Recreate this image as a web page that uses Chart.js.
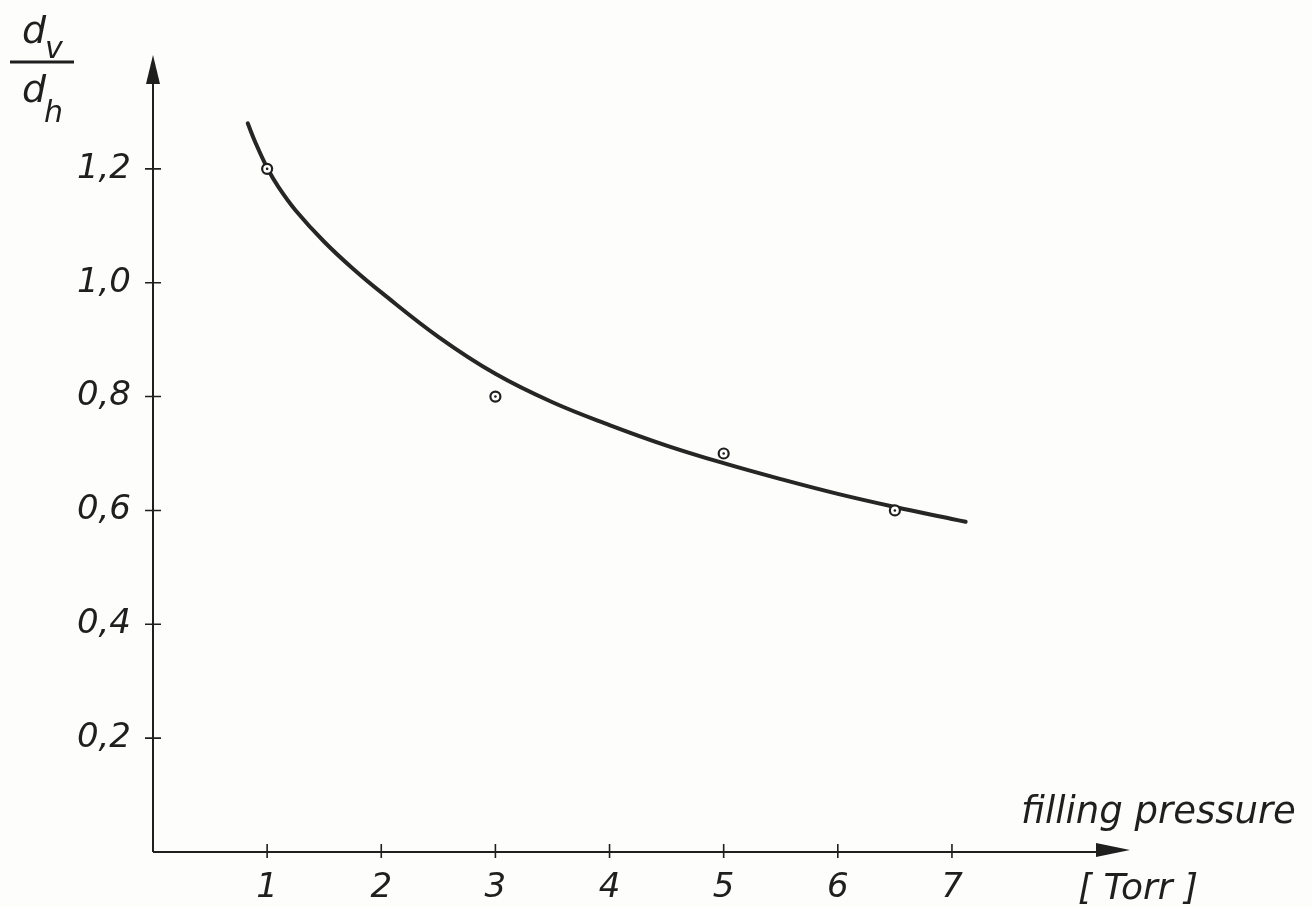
<!DOCTYPE html>
<html>
<head>
<meta charset="utf-8">
<script src="https://cdn.jsdelivr.net/npm/chart.js@4"></script>
<style>
  html, body { margin: 0; padding: 0; background: #fdfdfc; }
  #wrap { width: 1312px; height: 907px; }
</style>
</head>
<body>
<div id="wrap"><canvas id="chart" width="1312" height="907"></canvas></div>
<script>
// values
const pressureTicks = [1, 2, 3, 4, 5, 6, 7];
const ratioTicks = [0.2, 0.4, 0.6, 0.8, 1.0, 1.2];
const measuredPressure = [1, 3, 5, 6.5];
const measuredRatio = [1.2, 0.8, 0.7, 0.6];
const curvePressure = [0.83, 0.9, 1, 1.1, 1.25, 1.5, 1.75, 2, 2.5, 3, 3.5, 4, 4.5, 5, 5.5, 6, 6.5, 7, 7.12];
const curveRatio = [1.28, 1.245, 1.202, 1.168, 1.127, 1.072, 1.025, 0.983, 0.905, 0.84, 0.79, 0.75, 0.714, 0.683, 0.655, 0.629, 0.606, 0.585, 0.58];

const ink = "#1f1f1f";
const tickFont = { family: "DejaVu Sans", size: 34, style: "italic" };

const toPoints = (xs, ys) => xs.map((x, i) => ({ x: x, y: ys[i] }));
const fmt = (v, digits) => v.toFixed(digits).replace(".", ",");

// axes with arrows, ticks crossing the axis line, and the axis titles
const axesPlugin = {
    id: "axes",
    afterDraw(chart) {
        const ctx = chart.ctx;
        const xs = chart.scales.x;
        const ys = chart.scales.y;
        const area = chart.chartArea;
        const x0 = xs.getPixelForValue(0);
        const y0 = ys.getPixelForValue(0);

        ctx.save();
        ctx.strokeStyle = ink;
        ctx.fillStyle = ink;
        ctx.lineWidth = 2;

        ctx.beginPath();
        ctx.moveTo(x0, y0);
        ctx.lineTo(x0, area.top + 20);
        ctx.moveTo(x0, y0);
        ctx.lineTo(area.right - 20, y0);
        ctx.stroke();

        // arrow heads
        ctx.beginPath();
        ctx.moveTo(x0, area.top);
        ctx.lineTo(x0 - 7, area.top + 29);
        ctx.lineTo(x0 + 7, area.top + 29);
        ctx.closePath();
        ctx.fill();
        ctx.beginPath();
        ctx.moveTo(area.right, y0 - 2);
        ctx.lineTo(area.right - 34, y0 - 9);
        ctx.lineTo(area.right - 34, y0 + 5);
        ctx.closePath();
        ctx.fill();

        // tick marks
        ctx.lineWidth = 1.6;
        ctx.beginPath();
        pressureTicks.forEach((v) => {
            const px = xs.getPixelForValue(v);
            ctx.moveTo(px, y0 - 8);
            ctx.lineTo(px, y0 + 6);
        });
        ratioTicks.forEach((v) => {
            const py = ys.getPixelForValue(v);
            ctx.moveTo(x0 - 8, py);
            ctx.lineTo(x0 + 8, py);
        });
        ctx.stroke();

        // titles
        ctx.textBaseline = "alphabetic";
        ctx.textAlign = "left";
        ctx.font = "italic 37px 'DejaVu Sans'";
        ctx.fillText("filling pressure", 1021, 823);
        ctx.font = "italic 36px 'DejaVu Sans'";
        ctx.fillText("[ Torr ]", 1078, 899);

        // d_v / d_h
        ctx.font = "italic 38px 'DejaVu Sans'";
        ctx.fillText("d", 22, 43);
        ctx.fillText("d", 22, 102);
        ctx.font = "italic 30px 'DejaVu Sans'";
        ctx.fillText("v", 45, 58);
        ctx.fillText("h", 44, 122);
        ctx.lineWidth = 3;
        ctx.beginPath();
        ctx.moveTo(10, 62);
        ctx.lineTo(74, 62);
        ctx.stroke();
        ctx.restore();
    },
};

new Chart(document.getElementById("chart"), {
    data: {
        datasets: [
            {
                type: "line",
                data: toPoints(curvePressure, curveRatio),
                borderColor: "#262626",
                borderWidth: 4,
                borderCapStyle: "round",
                pointRadius: 0,
                tension: 0.4,
                order: 3,
            },
            {
                type: "scatter",
                data: toPoints(measuredPressure, measuredRatio),
                pointRadius: 5,
                pointBackgroundColor: "#ffffff",
                pointBorderColor: ink,
                pointBorderWidth: 2.2,
                order: 2,
            },
            {
                type: "scatter",
                data: toPoints(measuredPressure, measuredRatio),
                pointRadius: 1.3,
                pointBackgroundColor: ink,
                pointBorderWidth: 0,
                order: 1,
            },
        ],
    },
    options: {
        responsive: false,
        animation: false,
        devicePixelRatio: 1,
        layout: { padding: { left: 0, right: 182, top: 55, bottom: 0 } },
        plugins: {
            legend: { display: false },
            tooltip: { enabled: false },
        },
        scales: {
            x: {
                type: "linear",
                min: 0,
                max: 8.56,
                afterBuildTicks: (s) => { s.ticks = pressureTicks.map((v) => ({ value: v })); },
                afterFit: (s) => { s.height = 55; },
                grid: { display: false },
                border: { display: false },
                ticks: {
                    font: tickFont,
                    color: ink,
                    padding: 8,
                    maxRotation: 0,
                    callback: (v) => String(v),
                },
            },
            y: {
                type: "linear",
                min: 0,
                max: 1.4,
                afterBuildTicks: (s) => { s.ticks = ratioTicks.map((v) => ({ value: v })); },
                afterFit: (s) => { s.width = 153; },
                grid: { display: false },
                border: { display: false },
                ticks: {
                    font: tickFont,
                    color: ink,
                    padding: 14,
                    callback: (v) => fmt(v, 1),
                },
            },
        },
    },
    plugins: [axesPlugin],
});
</script>
</body>
</html>
